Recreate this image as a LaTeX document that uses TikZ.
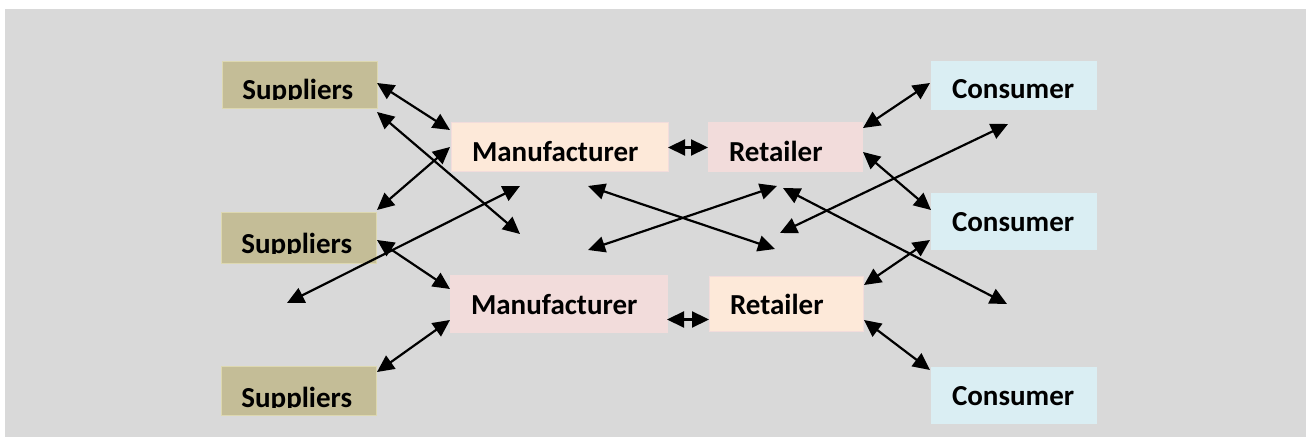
\documentclass[tikz,border=0pt]{standalone}
\usepackage{fontspec}
\setmainfont{Carlito}
\usetikzlibrary{arrows.meta,calc}
\definecolor{bggray}{HTML}{D9D9D9}
\definecolor{supfill}{HTML}{C4BD97}
\definecolor{supline}{HTML}{DDD8B0}
\definecolor{peach}{HTML}{FDE9D9}
\definecolor{rose}{HTML}{F2DCDB}
\definecolor{ice}{HTML}{DAEEF3}
\tikzset{
    box/.style={anchor=north west, inner xsep=10.5pt, inner ysep=0pt, outer sep=0pt, align=left,
        text height=19.5pt, text depth=9pt, line width=.5pt, font=\bfseries\fontsize{14.5}{17}\selectfont},
    sup/.style={anchor=north west, fill=supfill, draw=supline, line width=.5pt, minimum width=77.5pt, outer sep=0pt},
    suptxt/.style={anchor=base west, inner sep=0pt, font=\bfseries\fontsize{14.5}{17}\selectfont},
    man/.style={box, text width=87.5pt},
    ret/.style={box, text width=56pt},
    con/.style={box, fill=ice, text width=62pt},
    dbl/.style={{Triangle[length=8.5pt,width=8pt]}-{Triangle[length=8.5pt,width=8pt]}, line width=1.1pt}
}
\begin{document}
\begin{tikzpicture}[x=.5pt,y=-.5pt]
        \useasboundingbox (0,0) rectangle (1306,437);
        \fill [bggray] (5,9) rectangle (1306,437);
        % suppliers: the labels sit low and lose their descenders
        \foreach \n/\x/\y/\h/\b in {1/222/62/23.5pt/38, 2/221/213/25.5pt/41, 3/221/367/24.5pt/41} {
            \node [sup, minimum height=\h] (sup\n) at (\x,\y) {};
            \begin{scope}
                \clip (sup\n.north west) rectangle ($(sup\n.north east)+(0,\b)$);
                \node [suptxt] (supt\n) at ($(sup\n.north west)+(20,\b)$) {Suppliers};
            \end{scope}
        }
        \node [man, fill=peach, draw=rose, text depth=5pt] (man1) at (451,123) {Manufacturer};
        \node [man, fill=rose, draw=rose] (man2) at (450,276) {Manufacturer};
        \node [ret, fill=rose, draw=rose, text depth=5pt] (ret1) at (708,123) {Retailer};
        \node [ret, fill=peach, draw=rose, text height=19pt, text depth=8.5pt] (ret2) at (709,277) {Retailer};
        \node [con, text height=19pt, text depth=5.5pt] (con1) at (931,61) {Consumer};
        \node [con] (con2) at (931,193) {Consumer};
        \node [con] (con3) at (931,367) {Consumer};
        \coordinate (e1) at (520,234);
        \coordinate (e2) at (520,186);
        \coordinate (e3) at (287,303);
        \coordinate (e4) at (588,186);
        \coordinate (e5) at (775,249);
        \coordinate (e6) at (588,250);
        \coordinate (e7) at (777,186);
        \coordinate (e8) at (1008,124);
        \coordinate (e9) at (780,233);
        \coordinate (e10) at (783,188);
        \coordinate (e11) at (1007,304);
        \draw [dbl] ($(sup1.north east)+(0,21)$) -- ($(man1.north west)+(-1,7)$);
        \draw [dbl] ($(sup1.south east)+(0,3)$) -- (e1);
        \draw [dbl] ($(sup2.north east)+(1,-3)$) -- ($(man1.north west)+(-1,24)$);
        \draw [dbl] (e2) -- (e3);
        \draw [dbl] ($(sup2.north east)+(1,27)$) -- ($(man2.north west)+(0,13)$);
        \draw [dbl] ($(sup3.north east)+(1,5)$) -- ($(man2.north west)+(0,44)$);
        \draw [dbl] (man1.east) -- (ret1.west);
        \draw [dbl] ($(man2.east)+(0,15)$) -- ($(ret2.west)+(0,15)$);
        \draw [dbl] (e4) -- (e5);
        \draw [dbl] (e6) -- (e7);
        \draw [dbl] ($(ret1.north east)+(1,5)$) -- ($(con1.north west)+(-1,22)$);
        \draw [dbl] ($(ret1.north east)+(1,29)$) -- ($(con2.north west)+(0,17)$);
        \draw [dbl] (e8) -- (e9);
        \draw [dbl] (e10) -- (e11);
        \draw [dbl] ($(ret2.north east)+(1,8)$) -- ($(con2.south west)+(-1,-10)$);
        \draw [dbl] ($(ret2.north east)+(1,43)$) -- ($(con3.north west)+(-1,3)$);
    \end{tikzpicture}
\end{document}
